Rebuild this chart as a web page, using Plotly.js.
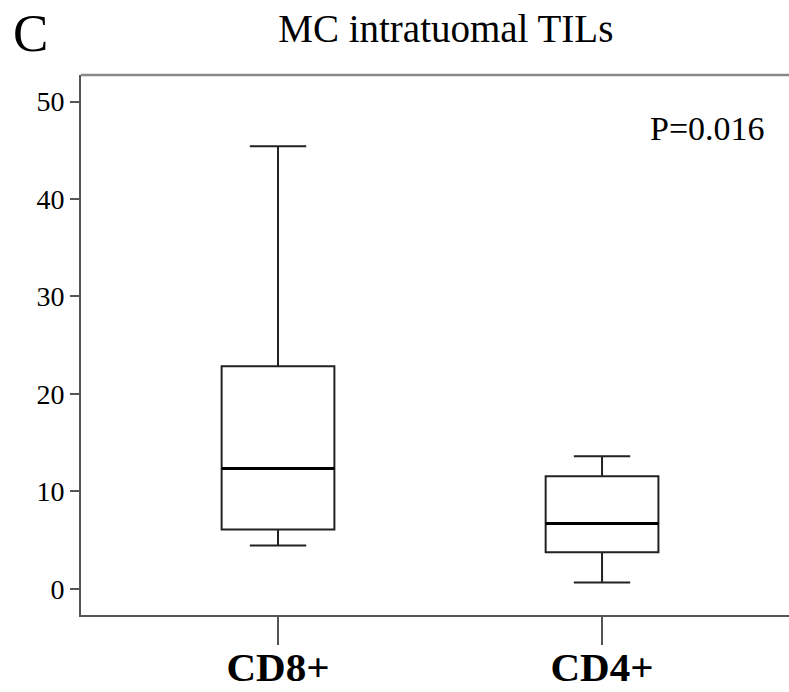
<!DOCTYPE html>
<html>
<head>
<meta charset="utf-8">
<script src="https://cdn.plot.ly/plotly-3.0.1.min.js"></script>
<style>html,body{margin:0;padding:0;background:#fff;overflow:hidden}#chart{width:789px;height:692px}</style>
</head>
<body>
<div id="chart"></div>
<script>
const categories = ["CD8+", "CD4+"];
const lowerWhisker = [4.45, 0.65];
const q1 = [6.1, 3.75];
const median = [12.35, 6.7];
const q3 = [22.85, 11.55];
const upperWhisker = [45.4, 13.6];
const yTicks = [0, 10, 20, 30, 40, 50];
const titleText = "MC intratuomal TILs";
const panelLabel = "C";
const pText = "P=0.016";

const serif = "Liberation Serif, Times New Roman, serif";

const boxTrace = {
  type: "box",
  x: categories,
  q1: q1, median: median, q3: q3,
  lowerfence: lowerWhisker, upperfence: upperWhisker,
  width: 0.348,
  whiskerwidth: 0.5,
  fillcolor: "rgba(255,255,255,0)",
  line: {color: "#222", width: 2},
  boxpoints: false,
  hoverinfo: "skip",
  showlegend: false
};
const medianTrace = {
  type: "box",
  x: categories,
  q1: median, median: median, q3: median,
  lowerfence: median, upperfence: median,
  width: 0.348,
  whiskerwidth: 0,
  fillcolor: "rgba(0,0,0,0)",
  line: {color: "#000", width: 3},
  boxpoints: false,
  hoverinfo: "skip",
  showlegend: false
};

const layout = {
  width: 789, height: 692,
  margin: {l: 81, r: 0, t: 75, b: 77},
  paper_bgcolor: "#fff", plot_bgcolor: "#fff",
  showlegend: false,
  boxmode: "overlay",
  title: {
    text: titleText,
    font: {family: serif, size: 39, color: "#000"},
    xref: "container", x: 0.565, xanchor: "center",
    yref: "container", y: 1 - 28/692, yanchor: "middle"
  },
  xaxis: {
    type: "category",
    range: [-0.608, 1.577],
    showgrid: false, zeroline: false,
    showline: true, linecolor: "#555", linewidth: 2,
    ticks: "outside", ticklen: 28, tickwidth: 2, tickcolor: "#555",
    ticklabelstandoff: -13,
    tickfont: {family: serif, size: 41, color: "#000", weight: "bold"},
    fixedrange: true
  },
  yaxis: {
    range: [-2.68, 52.72],
    tickvals: yTicks,
    ticktext: yTicks.map(String),
    showgrid: false, zeroline: false,
    showline: true, linecolor: "#555", linewidth: 2,
    ticks: "outside", ticklen: 9, tickwidth: 2, tickcolor: "#555",
    tickfont: {family: serif, size: 28, color: "#000"},
    fixedrange: true
  },
  shapes: [{
    type: "line", xref: "paper", yref: "paper",
    x0: 0, x1: 1, y0: 1, y1: 1,
    line: {color: "#888", width: 2.5}
  }],
  annotations: [
    {text: panelLabel, xref: "paper", yref: "paper", showarrow: false,
     xanchor: "left", yanchor: "middle",
     x: (11 - 81)/708, y: 1 + 42/540,
     font: {family: serif, size: 53, color: "#000"}},
    {text: pText, xref: "paper", yref: "paper", showarrow: false,
     xanchor: "left", yanchor: "middle",
     x: (648-81)/708, y: (614.5-128)/539.5,
     font: {family: serif, size: 34, color: "#000"}}
  ]
};

Plotly.newPlot("chart", [boxTrace, medianTrace], layout, {staticPlot: true, displayModeBar: false});
</script>
</body>
</html>
